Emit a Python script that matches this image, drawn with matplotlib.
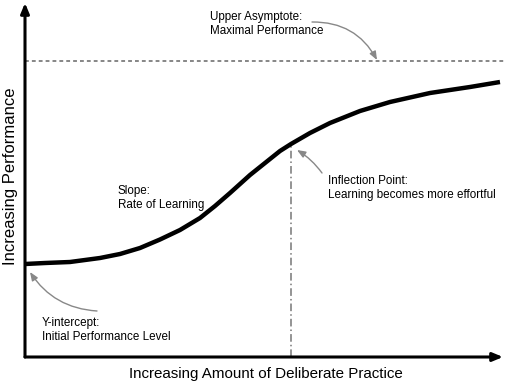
import matplotlib
matplotlib.use("Agg")
import matplotlib.pyplot as plt

plt.rcParams["font.family"] = ["Liberation Sans", "DejaVu Sans"]

# learning curve (x: practice, y: performance)
practice = [0, 20, 45, 75, 95, 115, 135, 155, 175, 190, 205, 215, 225, 235, 245,
            255, 266, 285, 305, 335, 365, 405, 445, 475]
performance = [93, 94, 95, 99, 103, 109, 117.5, 127, 139, 151, 164, 173, 182, 190, 198,
               206, 213, 224, 234, 246, 255, 264, 270, 275]

asymptote = 296
inflection_x = 266
inflection_y = 213

W, H = 506, 384
fig = plt.figure(figsize=(W / 100, H / 100), dpi=100)
ax = fig.add_axes([25 / W, (H - 357) / H, 478 / W, 354 / H])
ax.set_xlim(0, 478)
ax.set_ylim(0, 354)
ax.set_xticks([])
ax.set_yticks([])
for s in ax.spines.values():
    s.set_visible(False)

# axes with arrow heads
arrow_kw = dict(arrowstyle="-|>,head_length=0.6,head_width=0.25", color="black", lw=2.2,
                shrinkA=0, shrinkB=0)
ax.annotate("", xy=(0, 1), xytext=(0, 0), xycoords="axes fraction", arrowprops=arrow_kw)
ax.annotate("", xy=(1, 0), xytext=(0, 0), xycoords="axes fraction", arrowprops=arrow_kw)

ax.plot(practice, performance, color="black", lw=3.2, solid_capstyle="butt",
        solid_joinstyle="round", zorder=3)
ax.plot([0, 481], [asymptote, asymptote], color="#666666", lw=1.1, ls=(0, (2.5, 2)), clip_on=False)
ax.plot([inflection_x, inflection_x], [0, inflection_y], color="#777777", lw=1.1,
        ls=(0, (5, 2, 1, 2)))

txt = dict(fontsize=8.4, color="black", ha="left", va="center", linespacing=1.25)
ax.text(185, 333, "Upper Asymptote:\nMaximal Performance", **txt)
ax.text(93, 159, "Slope:\nRate of Learning", **txt)
ax.text(303, 169, "Inflection Point:\nLearning becomes more effortful", **txt)
ax.text(17, 27, "Y-intercept:\nInitial Performance Level", **txt)

grey = dict(arrowstyle="-|>,head_length=0.5,head_width=0.2", color="#888888", lw=1.0,
            shrinkA=0, shrinkB=0)
ax.annotate("", xy=(352, 297), xytext=(287, 335),
            arrowprops=dict(grey, connectionstyle="arc3,rad=-0.3"))
ax.annotate("", xy=(272, 207), xytext=(297, 184),
            arrowprops=dict(grey, connectionstyle="arc3,rad=0.1"))
ax.annotate("", xy=(5, 85), xytext=(72, 46),
            arrowprops=dict(grey, connectionstyle="arc3,rad=-0.25"))

fig.text(266 / W, 1 - 374 / H, "Increasing Amount of Deliberate Practice",
         fontsize=10.9, ha="center", va="center")
fig.text(11 / W, 1 - 176 / H, "Increasing Performance", fontsize=12,
         rotation=90, ha="center", va="center")

fig.savefig("out.png", dpi=100, facecolor="white")
